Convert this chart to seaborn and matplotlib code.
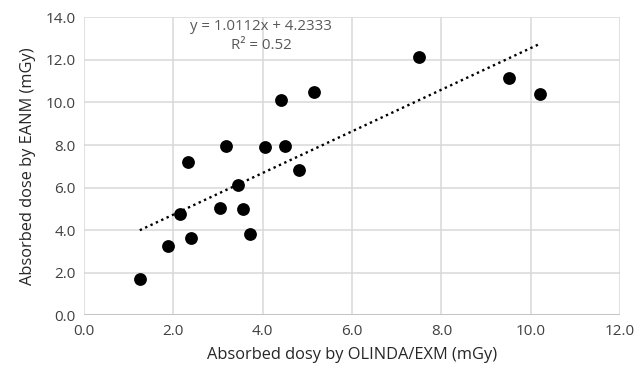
import matplotlib
matplotlib.use("Agg")
import matplotlib.pyplot as plt
import seaborn as sns
import numpy as np
import pandas as pd

olinda = [1.25, 1.88, 2.15, 2.39, 2.32, 3.04, 3.19, 3.45, 3.56, 3.71,
          4.06, 4.41, 4.50, 4.81, 5.15, 7.51, 9.52, 10.21]
eanm = [1.70, 3.25, 4.75, 3.63, 7.18, 5.03, 7.96, 6.12, 4.99, 3.82,
        7.90, 10.10, 7.96, 6.84, 10.47, 12.11, 11.17, 10.38]
x_ticks = [0, 2, 4, 6, 8, 10, 12]
y_ticks = [0, 2, 4, 6, 8, 10, 12, 14]
equation_text = "y = 1.0112x + 4.2333"
r2_text = "R² = 0.52"

df = pd.DataFrame({"x": olinda, "y": eanm})

sns.set_theme(style="white")
plt.rcParams['font.family'] = ['Open Sans', 'DejaVu Sans']

fig = plt.figure(figsize=(6.36, 3.75), dpi=100)
ax = fig.add_axes([0.132, 0.159, 0.843, 0.795])

sns.regplot(data=df, x="x", y="y", scatter=False, ci=None, truncate=True, ax=ax,
            line_kws=dict(color="black", linestyle=(0, (1, 1.5)), linewidth=1.7))
sns.scatterplot(data=df, x="x", y="y", ax=ax, color="black", s=85, edgecolor="black",
                linewidth=0, zorder=3)

ax.set_xlim(0, 12)
ax.set_ylim(0, 14)
ax.set_xticks(x_ticks)
ax.set_yticks(y_ticks)
ax.set_xticklabels([f"{v:.1f}" for v in x_ticks])
ax.set_yticklabels([f"{v:.1f}" for v in y_ticks])
ax.grid(True, color="#d9d9d9", linewidth=1.1)
ax.set_axisbelow(True)
for s in ax.spines.values():
    s.set_visible(False)
ax.axhline(0, color="#bfbfbf", linewidth=1.2, zorder=1)
ax.tick_params(axis="both", length=0, labelsize=11, colors="#404040", pad=6)

ax.set_xlabel("Absorbed dosy by OLINDA/EXM (mGy)", fontsize=11.8, color="#262626", labelpad=6)
ax.set_ylabel("Absorbed dose by EANM (mGy)", fontsize=11.8, color="#262626", labelpad=7)

ax.text(3.96, 13.55, equation_text, ha="center", va="center", fontsize=10.8, color="#595959")
ax.text(3.96, 12.65, r2_text, ha="center", va="center", fontsize=10.8, color="#595959")

fig.savefig("out.png", dpi=100)
